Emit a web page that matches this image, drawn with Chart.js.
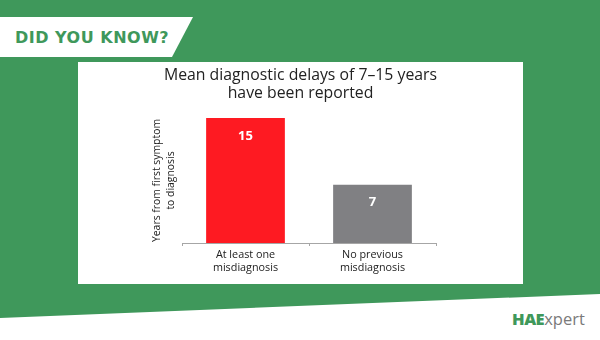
<!DOCTYPE html>
<html>
<head>
<meta charset="utf-8">
<script src="https://cdn.jsdelivr.net/npm/chart.js@4.4.0/dist/chart.umd.min.js"></script>
<style>
    body { margin: 0; }
    #page {
        position: relative;
        width: 600px;
        height: 340px;
        background: #3f985b;
        overflow: hidden;
        font-family: "Open Sans", sans-serif;
    }
    #footer {
        position: absolute;
        left: 0; top: 0;
        width: 600px; height: 340px;
        background: #fff;
        clip-path: polygon(0 318px, 600px 294px, 600px 340px, 0 340px);
    }
    #banner {
        position: absolute;
        left: 0; top: 17px;
        width: 193px; height: 40px;
        background: #fff;
        clip-path: polygon(0 0, 193px 0, 172px 40px, 0 40px);
        color: #3f985b;
        font: bold 16px "DejaVu Sans", sans-serif;
        line-height: 41px;
        padding-left: 15px;
        box-sizing: border-box;
        letter-spacing: 0.5px;
    }
    #panel {
        position: absolute;
        left: 78px; top: 62px;
        width: 445px; height: 222px;
        background: #fff;
    }
    #logo {
        position: absolute;
        left: 512px; top: 308px;
        font-size: 16.5px;
        line-height: 22px;
        color: #7a7a7a;
    }
    #logo b { color: #3f985b; font-weight: 800; letter-spacing: -0.5px; }
</style>
</head>
<body>
<div id="page">
    <div id="footer"></div>
    <div id="banner">DID YOU KNOW?</div>
    <div id="panel"><canvas id="delayChart" width="445" height="222"></canvas></div>
    <div id="logo"><b>HAE</b>xpert</div>
</div>
<script>
    const categories = [['At least one', 'misdiagnosis'], ['No previous', 'misdiagnosis']];
    const delayYears = [15, 7];
    const barColors = ['#fe1a22', '#808083'];
    const chartTitle = ['Mean diagnostic delays of 7\u201315 years', 'have been reported'];
    const yAxisTitle = ['Years from first symptom', 'to diagnosis'];

    Chart.defaults.font.family = '"Open Sans", sans-serif';

    // white value written inside the top of each bar
    const valueLabels = {
        id: 'valueLabels',
        afterDatasetsDraw(chart) {
            const ctx = chart.ctx;
            const meta = chart.getDatasetMeta(0);
            ctx.save();
            ctx.font = 'bold 13px "Open Sans", sans-serif';
            ctx.fillStyle = '#ffffff';
            ctx.textAlign = 'center';
            ctx.textBaseline = 'middle';
            meta.data.forEach((bar, i) => {
                ctx.fillText(chart.data.datasets[0].data[i], bar.x, bar.y + 18);
            });
            ctx.restore();
        }
    };

    const ctx = document.getElementById('delayChart').getContext('2d');

    const delayChart = new Chart(ctx, {
        type: 'bar',
        data: {
            labels: categories,
            datasets: [{
                data: delayYears,
                backgroundColor: barColors,
                borderWidth: 0,
                categoryPercentage: 1,
                barPercentage: 0.62
            }]
        },
        options: {
            responsive: false,
            animation: false,
            layout: { padding: 0 },
            plugins: {
                legend: { display: false },
                tooltip: { enabled: false },
                title: {
                    display: true,
                    text: chartTitle,
                    color: '#222222',
                    font: { size: 15.8, weight: 'normal', lineHeight: 1.14 },
                    padding: { top: 4, bottom: 16 }
                }
            },
            scales: {
                x: {
                    grid: {
                        display: true,
                        drawOnChartArea: false,
                        tickLength: 3,
                        color: '#a6a6a6'
                    },
                    border: { color: '#a6a6a6' },
                    ticks: {
                        color: '#222222',
                        font: { size: 10.8, lineHeight: 1.2 },
                        padding: 2,
                        maxRotation: 0
                    },
                    afterFit(scale) { scale.height = 41; }
                },
                y: {
                    min: 0,
                    max: 15,
                    grid: { display: false },
                    border: { display: false },
                    ticks: { display: false },
                    title: {
                        display: true,
                        text: yAxisTitle,
                        color: '#222222',
                        font: { size: 10.4, lineHeight: 1.38 },
                        padding: { top: 72, bottom: 0 }
                    },
                    afterFit(scale) { scale.width = 104; }
                },
                y2: {
                    type: 'linear',
                    position: 'right',
                    grid: { display: false },
                    border: { display: false },
                    ticks: { display: false },
                    afterFit(scale) { scale.width = 87; }
                }
            }
        },
        plugins: [valueLabels]
    });
</script>
</body>
</html>
